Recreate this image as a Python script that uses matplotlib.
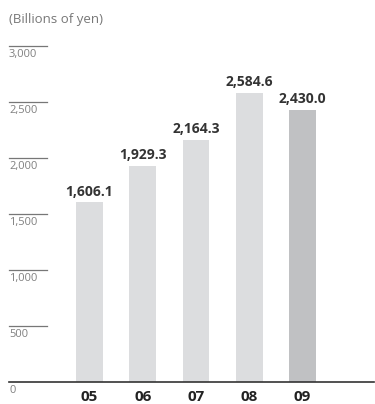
import matplotlib
matplotlib.use("Agg")
import matplotlib.pyplot as plt
from matplotlib.transforms import offset_copy

years = ["05", "06", "07", "08", "09"]
values = [1606.1, 1929.3, 2164.3, 2584.6, 2430.0]
value_labels = ["1,606.1", "1,929.3", "2,164.3", "2,584.6", "2,430.0"]
yticks = [0, 500, 1000, 1500, 2000, 2500, 3000]
ytick_labels = ["0", "500", "1,000", "1,500", "2,000", "2,500", "3,000"]
unit_label = "(Billions of yen)"

plt.rcParams['font.family'] = ['Open Sans', 'DejaVu Sans']

W, H = 375, 404
fig = plt.figure(figsize=(W / 100, H / 100), dpi=100)
left_px, right_px, top_px, bot_px = 9, 374, 46, 382
ax = fig.add_axes([left_px / W, (H - bot_px) / H, (right_px - left_px) / W, (bot_px - top_px) / H])

colors = ["#dcdddf"] * 4 + ["#c0c1c3"]
x = list(range(len(years)))
ax.bar(x, values, width=0.507, color=colors, zorder=2)

step = 53.25
ax.set_xlim((left_px - 89.5) / step, (right_px - 89.5) / step)
ax.set_ylim(0, 3000)
ax.axis("off")

# bottom axis line
ax.plot([0, 1], [0, 0], transform=ax.transAxes, color="#333333", lw=1.2, clip_on=False, zorder=3)

# short gridlines with labels below
for v, lab in zip(yticks, ytick_labels):
    if v > 0:
        ax.plot([0, 38 / 365], [v, v], transform=ax.get_yaxis_transform(), color="#777777", lw=0.9, clip_on=False)
    t = offset_copy(ax.get_yaxis_transform(), fig=fig, x=0, y=-2.5, units="points")
    ax.text(0, v, lab, transform=t, ha="left", va="top", fontsize=8, color="#808080")

# value labels
for xi, v, lab in zip(x, values, value_labels):
    ax.annotate(lab, (xi, v), xytext=(0, 2.5), textcoords="offset points", ha="center", va="bottom",
                fontsize=10, fontweight="bold", color="#333333")

# x tick labels
for xi, yl in zip(x, years):
    ax.annotate(yl, (xi, 0), xytext=(0, -14), textcoords="offset points", ha="center", va="baseline",
                fontsize=11, fontweight="bold", color="#222222")

fig.text(left_px / W, 1 - 20 / H, unit_label, ha="left", va="center", fontsize=9.5, color="#777777")

fig.savefig("out.png", dpi=100)
